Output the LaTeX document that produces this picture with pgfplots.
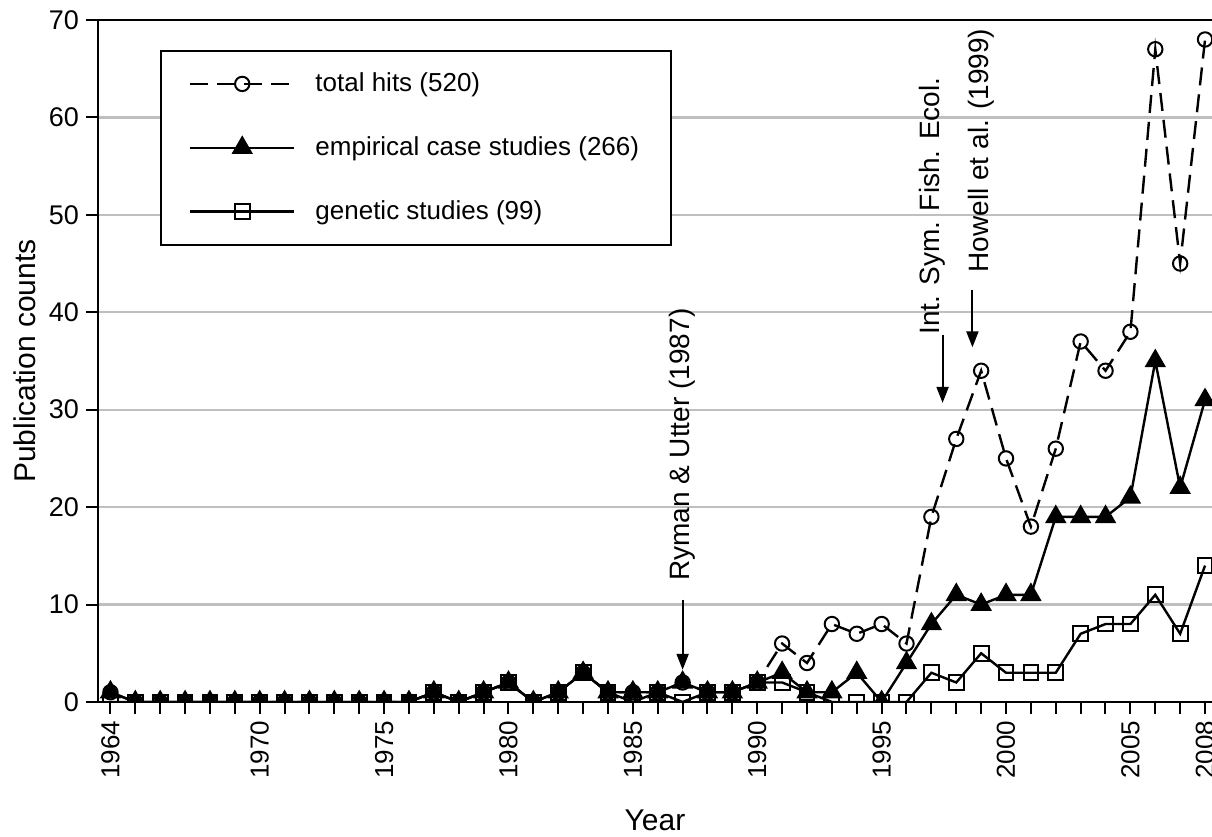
\documentclass[border=0pt]{standalone}
\usepackage{fontspec}
\setmainfont{Liberation Sans}
\usepackage{pgfplots}
\usepackage{pgfplotstable}
\pgfplotsset{compat=1.18}
\usetikzlibrary{arrows.meta}

% Publication counts per year
\pgfplotstableread{
year total empirical genetic
1964 1 1 0
1965 0 0 0
1966 0 0 0
1967 0 0 0
1968 0 0 0
1969 0 0 0
1970 0 0 0
1971 0 0 0
1972 0 0 0
1973 0 0 0
1974 0 0 0
1975 0 0 0
1976 0 0 0
1977 1 1 1
1978 0 0 0
1979 1 1 1
1980 2 2 2
1981 0 0 0
1982 1 1 1
1983 3 3 3
1984 1 1 1
1985 1 1 0
1986 1 1 1
1987 2 2 0
1988 1 1 1
1989 1 1 1
1990 2 2 2
1991 6 3 2
1992 4 1 1
1993 8 1 0
1994 7 3 0
1995 8 0 0
1996 6 4 0
1997 19 8 3
1998 27 11 2
1999 34 10 5
2000 25 11 3
2001 18 11 3
2002 26 19 3
2003 37 19 7
2004 34 19 8
2005 38 21 8
2006 67 35 11
2007 45 22 7
2008 68 31 14
}\pubdata

\begin{document}
\begin{tikzpicture}
\begin{axis}[
  width=557pt, height=341pt, scale only axis,
  xmin=1963.5, xmax=2008.28, ymin=0, ymax=70,
  axis x line*=box, axis y line*=left,
  axis line style={line width=1.3pt},
  xtick={1964,1970,1975,1980,1985,1990,1995,2000,2005,2008},
  minor xtick={1964,...,2008},
  ytick={0,10,...,70},
  xtick pos=left, ytick pos=left, tick align=outside,
  major tick length=6pt, minor tick length=6pt,
  every tick/.style={black, line width=1pt},
  every minor tick/.style={black, line width=1pt},
  ymajorgrids, major grid style={black!25, line width=1.1pt},
  /pgf/number format/assume math mode=true,
  x tick label style={rotate=90, anchor=east, font=\fontsize{13}{15}\selectfont, /pgf/number format/1000 sep={}},
  y tick label style={anchor=east, font=\fontsize{13.5}{15}\selectfont},
  xlabel={Year}, ylabel={Publication counts},
  every axis x label/.style={at={(axis description cs:0.5,-0.173)}, anchor=center, font=\fontsize{15}{18}\selectfont},
  every axis y label/.style={at={(axis description cs:-0.0655,0.5)}, rotate=90, anchor=center, font=\fontsize{15}{18}\selectfont},
  clip marker paths=true,
  legend cell align=left,
  legend style={at={(rel axis cs:0.0557,0.956)}, anchor=north west,
    draw=black, line width=1pt, inner xsep=14pt, inner ysep=9pt,
    row sep=17pt, font=\fontsize{13}{16}\selectfont,
    /tikz/every odd column/.append style={column sep=8pt}},
  legend image code/.code={\draw[mark repeat=2,mark phase=2] plot coordinates {(0pt,0pt) (26pt,0pt) (52pt,0pt)};},
]
\coordinate (bbsw) at (rel axis cs:0,0);
\coordinate (bbne) at (rel axis cs:1,1);

\addplot[black, line width=1.2pt, dash pattern=on 9pt off 4.5pt,
  mark=o, mark size=3.6pt, mark options={solid, line width=1pt}]
  table[x=year, y=total] {\pubdata};
\addlegendentry{total hits (520)}

\addplot[black, line width=1.2pt, mark=triangle*, mark size=5pt,
  mark options={solid, fill=black}]
  table[x=year, y=empirical] {\pubdata};
\addlegendentry{empirical case studies (266)}

\addplot[black, line width=1.2pt, mark=square, mark size=3.7pt,
  mark options={solid, line width=1pt}]
  table[x=year, y=genetic] {\pubdata};
\addlegendentry{genetic studies (99)}

% Milestone annotations
\node[rotate=90, font=\fontsize{14}{16}\selectfont] at (axis cs:1987,26.4) {Ryman \& Utter (1987)};
\draw[line width=1pt, -{Triangle[length=8pt,width=6pt]}] (axis cs:1987,10.5) -- (axis cs:1987,3.3);

\node[rotate=90, font=\fontsize{14}{16}\selectfont] at (axis cs:1997.05,50.9) {Int. Sym. Fish. Ecol.};
\draw[line width=1pt, -{Triangle[length=8pt,width=6pt]}] (axis cs:1997.45,37.7) -- (axis cs:1997.45,30.7);

\node[rotate=90, font=\fontsize{14}{16}\selectfont] at (axis cs:1999.0,56.6) {Howell et al. (1999)};
\draw[line width=1pt, -{Triangle[length=8pt,width=6pt]}] (axis cs:1998.65,42.3) -- (axis cs:1998.65,36.4);
\end{axis}
\pgfresetboundingbox
\path[use as bounding box] ([xshift=-49pt,yshift=-67.5pt]bbsw) rectangle ([yshift=10pt]bbne);
\end{tikzpicture}
\end{document}
